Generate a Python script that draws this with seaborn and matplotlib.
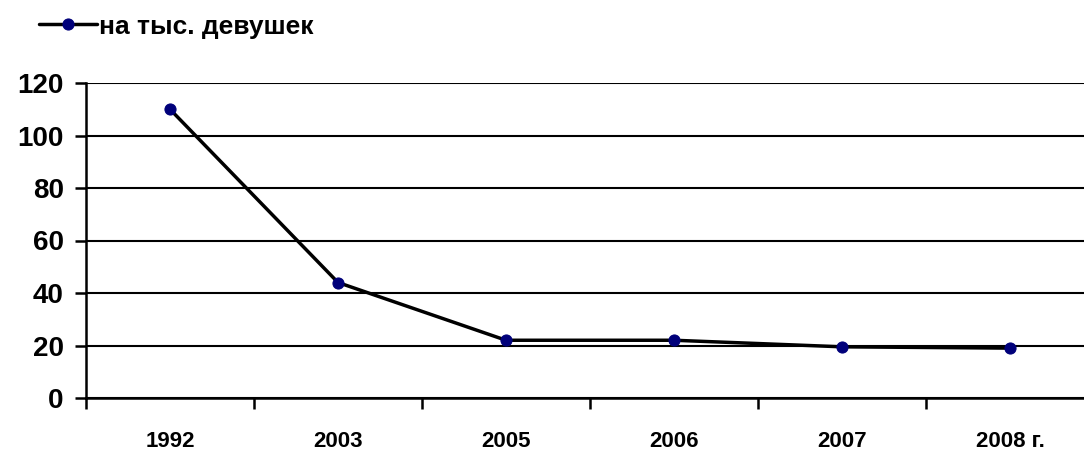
import matplotlib
matplotlib.use('Agg')
import matplotlib.pyplot as plt
import pandas as pd
import seaborn as sns

# данные
years = ['1992', '2003', '2005', '2006', '2007', '2008 г.']
values = [110, 44, 22, 22, 19.5, 19]
series_name = 'на тыс. девушек'

sns.set_style('white')
plt.rcParams['font.family'] = ['Liberation Sans', 'DejaVu Sans']
plt.rcParams['font.weight'] = 'bold'
plt.rcParams['text.color'] = 'black'
plt.rcParams['xtick.color'] = 'black'
plt.rcParams['ytick.color'] = 'black'

df = pd.DataFrame({'year': years, 'value': values})

fig = plt.figure(figsize=(10.84, 4.58), dpi=100)
ax = fig.add_axes([86 / 1084, 1 - 398 / 458, 1008 / 1084, 315 / 458])

sns.lineplot(data=df, x='year', y='value', ax=ax, sort=False,
             color='black', linewidth=2.5, marker='o', markersize=8,
             markerfacecolor='#00007a', markeredgecolor='#00007a',
             label=series_name, zorder=3)

ax.set_xlim(-0.5, 5.5)
ax.set_ylim(0, 120)
ax.set_yticks(range(0, 121, 20))
ax.grid(axis='y', color='black', linewidth=1.5)
ax.set_axisbelow(True)
ax.set_xlabel('')
ax.set_ylabel('')

for s in ['top', 'right']:
    ax.spines[s].set_visible(False)
ax.spines['left'].set_linewidth(1.8)
ax.spines['bottom'].set_linewidth(1.8)
ax.spines['left'].set_color('black')
ax.spines['bottom'].set_color('black')

# подписи по центру категорий, риски между ними
ax.set_xticks(range(len(years)))
ax.set_xticklabels(years, fontsize=16, fontweight='bold')
ax.set_xticks([i - 0.5 for i in range(len(years) + 1)], minor=True)
ax.tick_params(axis='x', which='major', bottom=True, length=0, pad=24)
ax.tick_params(axis='x', which='minor', bottom=True, length=8, width=1.8,
               color='black', direction='out')
ax.tick_params(axis='y', left=True, length=8, width=1.8, color='black',
               labelsize=20, pad=8)
for lbl in ax.get_yticklabels():
    lbl.set_fontweight('bold')

leg = ax.legend(loc='upper left', bbox_to_anchor=((28 - 86) / 1008, 1 + (83 - 4) / 315),
                frameon=False, prop={'size': 19, 'weight': 'bold'},
                handlelength=2.2, handletextpad=0.1, borderaxespad=0.0)

fig.savefig('out.png', dpi=100)
